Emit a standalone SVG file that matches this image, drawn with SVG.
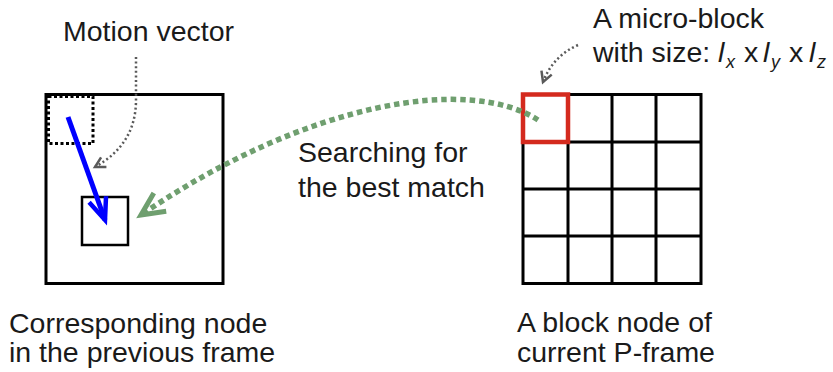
<svg xmlns="http://www.w3.org/2000/svg" width="833" height="372" viewBox="0 0 833 372">
  <style>
    .label { font-family: "Liberation Sans", Arial, sans-serif; font-size: 28.5px; fill: #1a1a1a; }
    .it { font-style: italic; }
    .sub { font-size: 18px; font-style: italic; }
    .frame { fill: none; stroke: #000; stroke-width: 3; }
    .cell { fill: none; stroke: #000; stroke-width: 3; }
    .pointer { fill: none; stroke: #5a5a5a; stroke-width: 2.5; stroke-dasharray: 2 2.6; }
    .search { fill: none; stroke: #6f9f6f; stroke-width: 5.5; stroke-dasharray: 5.5 4; }
  </style>
  <defs>
    <marker id="head-blue" markerUnits="userSpaceOnUse" orient="auto" refX="0" refY="0" markerWidth="30" markerHeight="30" overflow="visible">
      <path d="M-22,-9 L0,0 L-22,9" fill="none" stroke="#0000ff" stroke-width="4.5" stroke-linejoin="miter"/>
    </marker>
    <marker id="head-gray" markerUnits="userSpaceOnUse" orient="auto" refX="0" refY="0" markerWidth="20" markerHeight="20" overflow="visible">
      <path d="M-10,-5.5 L0,0 L-10,5.5" fill="none" stroke="#5a5a5a" stroke-width="2.5"/>
    </marker>
    <marker id="head-green" markerUnits="userSpaceOnUse" orient="auto" refX="0" refY="0" markerWidth="40" markerHeight="40" overflow="visible">
      <path d="M-23,-11 L0,0 L-23,11" fill="none" stroke="#6f9f6f" stroke-width="5"/>
    </marker>
  </defs>

  <rect width="833" height="372" fill="#fff"/>

  <!-- node in the previous frame -->
  <g id="prev-frame">
    <rect class="frame" x="46" y="94.5" width="177" height="189"/>
    <rect x="48.5" y="96.5" width="44.5" height="47" fill="none" stroke="#000" stroke-width="3" stroke-dasharray="3 2.5"/>
    <rect x="82" y="197" width="46" height="48" fill="none" stroke="#000" stroke-width="2.5"/>
    <text class="label" x="9" y="333">Corresponding node</text>
    <text class="label" x="9" y="362">in the previous frame</text>
  </g>

  <!-- block node of the current P-frame -->
  <g id="p-frame">
    <rect class="cell" x="523" y="94.5" width="178" height="189"/>
    <path class="cell" d="M568,94.5 V283.5 M612,94.5 V283.5 M656,94.5 V283.5 M523,142 H701 M523,189 H701 M523,236 H701"/>
    <rect x="523" y="94.5" width="45" height="47.5" fill="none" stroke="#d42a1e" stroke-width="4.5"/>
    <text class="label" x="517" y="332">A block node of</text>
    <text class="label" x="517" y="362">current P-frame</text>
  </g>

  <!-- connectors -->
  <g id="connectors">
    <path class="search" d="M538,120 C470,76 310,100 141,215" marker-end="url(#head-green)"/>
    <line x1="68" y1="117" x2="105" y2="220" stroke="#0000ff" stroke-width="5" marker-end="url(#head-blue)"/>
    <path class="pointer" d="M136,57 L136,100 C136,130 122,152 95,167" marker-end="url(#head-gray)"/>
    <path class="pointer" d="M578,45 Q553,56 543,82" marker-end="url(#head-gray)"/>
  </g>

  <!-- connector labels -->
  <g id="labels">
    <text class="label" x="63" y="41">Motion vector</text>
    <text class="label" x="298" y="162">Searching for</text>
    <text class="label" x="298" y="197">the best match</text>
    <text class="label" x="593" y="28">A micro-block</text>
    <text class="label" y="62"><tspan x="593">with size:</tspan><tspan class="it" x="718">l</tspan><tspan class="sub" x="726" dy="6">x</tspan><tspan x="744" dy="-6">x</tspan><tspan class="it" x="763">l</tspan><tspan class="sub" x="771" dy="6">y</tspan><tspan x="789" dy="-6">x</tspan><tspan class="it" x="809">l</tspan><tspan class="sub" x="817" dy="6">z</tspan></text>
  </g>
</svg>
